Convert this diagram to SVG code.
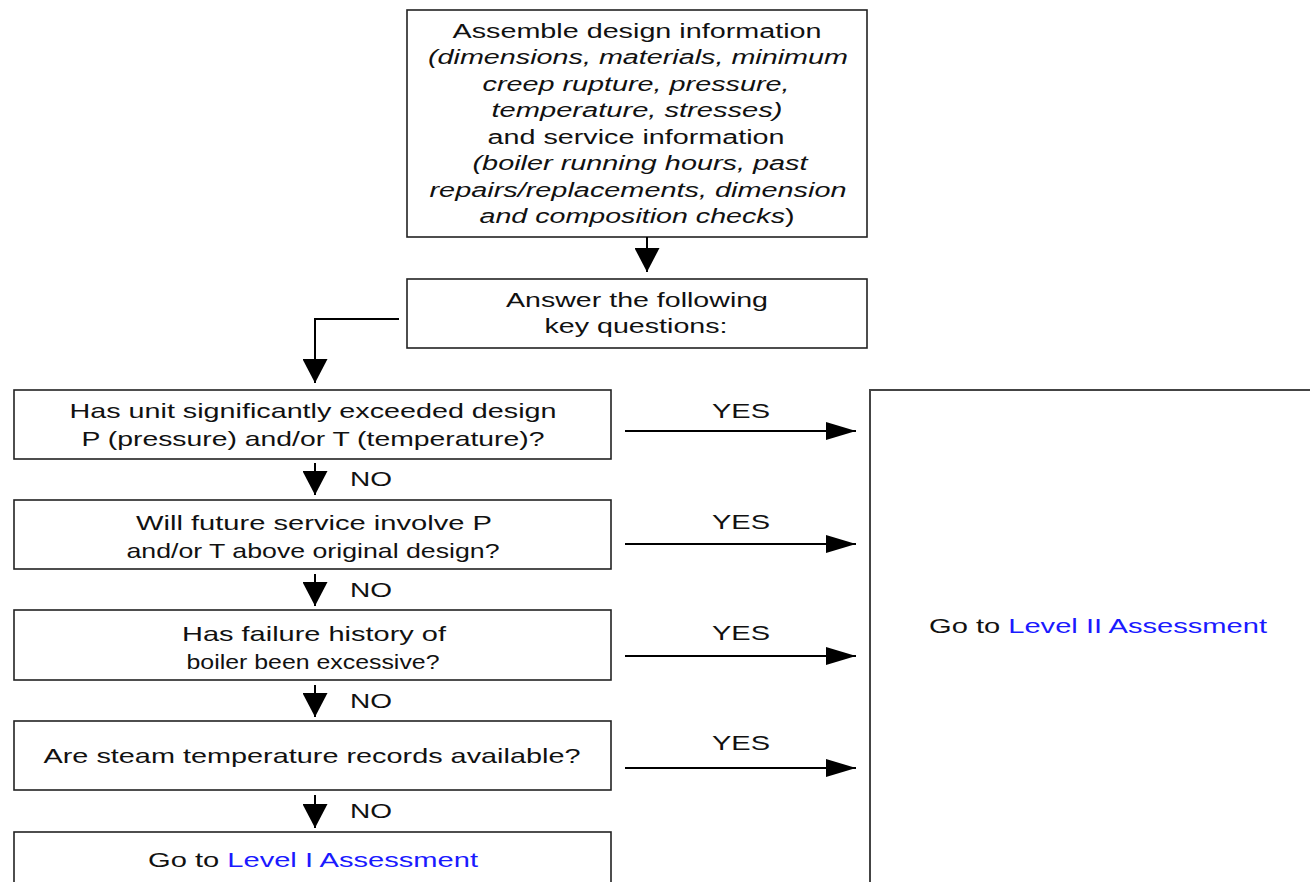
<svg xmlns="http://www.w3.org/2000/svg" width="1310" height="882" viewBox="0 0 1310 882">
<style>
.box{fill:#fff;stroke:#222;stroke-width:1.6}
.t{font-family:"Liberation Sans",Arial,sans-serif;fill:#111;text-anchor:middle}
.top{font-size:19.5px}
.q{font-size:21px}
.i{font-style:italic}
.b{fill:#1a1aff}
.c{fill:none;stroke:#000;stroke-width:2}
</style>
<defs>
<marker id="av" viewBox="0 0 24 25" refX="24" refY="12.5" markerWidth="24" markerHeight="25" markerUnits="userSpaceOnUse" orient="auto"><path d="M0,0 L24,12.5 L0,25 z" fill="#000"/></marker>
<marker id="ah" viewBox="0 0 30 18" refX="30" refY="9" markerWidth="30" markerHeight="18" markerUnits="userSpaceOnUse" orient="auto"><path d="M0,0 L30,9 L0,18 z" fill="#000"/></marker>
</defs>
<rect width="1310" height="882" fill="#fff"/>
<g id="n-assemble">
<rect class="box" x="407" y="10" width="460" height="227"/>
<text class="t top" x="637" y="38" textLength="369" lengthAdjust="spacingAndGlyphs">Assemble design information</text>
<text class="t top i" x="638" y="64" textLength="420" lengthAdjust="spacingAndGlyphs">(dimensions, materials, minimum</text>
<text class="t top i" x="636" y="91" textLength="307" lengthAdjust="spacingAndGlyphs">creep rupture, pressure,</text>
<text class="t top i" x="637" y="117" textLength="291" lengthAdjust="spacingAndGlyphs">temperature, stresses)</text>
<text class="t top" x="636" y="144" textLength="297" lengthAdjust="spacingAndGlyphs">and service information</text>
<text class="t top i" x="640" y="170" textLength="335" lengthAdjust="spacingAndGlyphs">(boiler running hours, past</text>
<text class="t top i" x="638" y="197" textLength="417" lengthAdjust="spacingAndGlyphs">repairs/replacements, dimension</text>
<text class="t top" x="637" y="223" textLength="315" lengthAdjust="spacingAndGlyphs"><tspan class="i">and composition checks</tspan>)</text>
</g>
<g id="n-answer">
<rect class="box" x="407" y="279" width="460" height="69"/>
<text class="t top" x="637" y="307" textLength="262" lengthAdjust="spacingAndGlyphs">Answer the following</text>
<text class="t top" x="636" y="333" textLength="183" lengthAdjust="spacingAndGlyphs">key questions:</text>
</g>
<g id="n-q1">
<rect class="box" x="14" y="390" width="597" height="69"/>
<text class="t q" x="313" y="418" textLength="487" lengthAdjust="spacingAndGlyphs">Has unit significantly exceeded design</text>
<text class="t q" x="313" y="446" textLength="463" lengthAdjust="spacingAndGlyphs">P (pressure) and/or T (temperature)?</text>
</g>
<g id="n-q2">
<rect class="box" x="14" y="500" width="597" height="69"/>
<text class="t q" x="314" y="530" textLength="356" lengthAdjust="spacingAndGlyphs">Will future service involve P</text>
<text class="t q" x="313" y="558" textLength="373" lengthAdjust="spacingAndGlyphs">and/or T above original design?</text>
</g>
<g id="n-q3">
<rect class="box" x="14" y="610" width="597" height="70"/>
<text class="t q" x="314" y="641" textLength="264" lengthAdjust="spacingAndGlyphs">Has failure history of</text>
<text class="t q" x="313" y="669" textLength="253" lengthAdjust="spacingAndGlyphs">boiler been excessive?</text>
</g>
<g id="n-q4">
<rect class="box" x="14" y="721" width="597" height="69"/>
<text class="t q" x="312" y="763" textLength="537" lengthAdjust="spacingAndGlyphs">Are steam temperature records available?</text>
</g>
<g id="n-level1">
<rect class="box" x="14" y="832" width="597" height="80"/>
<text class="t q" x="313" y="867" textLength="330" lengthAdjust="spacingAndGlyphs">Go to <tspan class="b">Level I Assessment</tspan></text>
</g>
<g id="n-level2">
<rect x="870" y="390" width="460" height="520" fill="#fff" stroke="#444" stroke-width="2"/>
<text class="t q" x="1098" y="633" textLength="338" lengthAdjust="spacingAndGlyphs">Go to <tspan class="b">Level II Assessment</tspan></text>
</g>
<g id="connectors">
<path class="c" d="M647,237 V272" marker-end="url(#av)"/>
<path class="c" d="M399,319 H315 V383" marker-end="url(#av)"/>
<path class="c" d="M315,463 V495" marker-end="url(#av)"/>
<path class="c" d="M315,574 V606" marker-end="url(#av)"/>
<path class="c" d="M315,685 V717" marker-end="url(#av)"/>
<path class="c" d="M315,795 V828" marker-end="url(#av)"/>
<path class="c" d="M625,431 H856" marker-end="url(#ah)"/>
<path class="c" d="M625,544 H856" marker-end="url(#ah)"/>
<path class="c" d="M625,656 H856" marker-end="url(#ah)"/>
<path class="c" d="M625,768 H856" marker-end="url(#ah)"/>
<text class="t q" x="741" y="418" textLength="58" lengthAdjust="spacingAndGlyphs">YES</text>
<text class="t q" x="741" y="529" textLength="58" lengthAdjust="spacingAndGlyphs">YES</text>
<text class="t q" x="741" y="640" textLength="58" lengthAdjust="spacingAndGlyphs">YES</text>
<text class="t q" x="741" y="750" textLength="58" lengthAdjust="spacingAndGlyphs">YES</text>
<text class="t q" x="371" y="486" textLength="42" lengthAdjust="spacingAndGlyphs">NO</text>
<text class="t q" x="371" y="597" textLength="42" lengthAdjust="spacingAndGlyphs">NO</text>
<text class="t q" x="371" y="708" textLength="42" lengthAdjust="spacingAndGlyphs">NO</text>
<text class="t q" x="371" y="818" textLength="42" lengthAdjust="spacingAndGlyphs">NO</text>
</g>
</svg>
